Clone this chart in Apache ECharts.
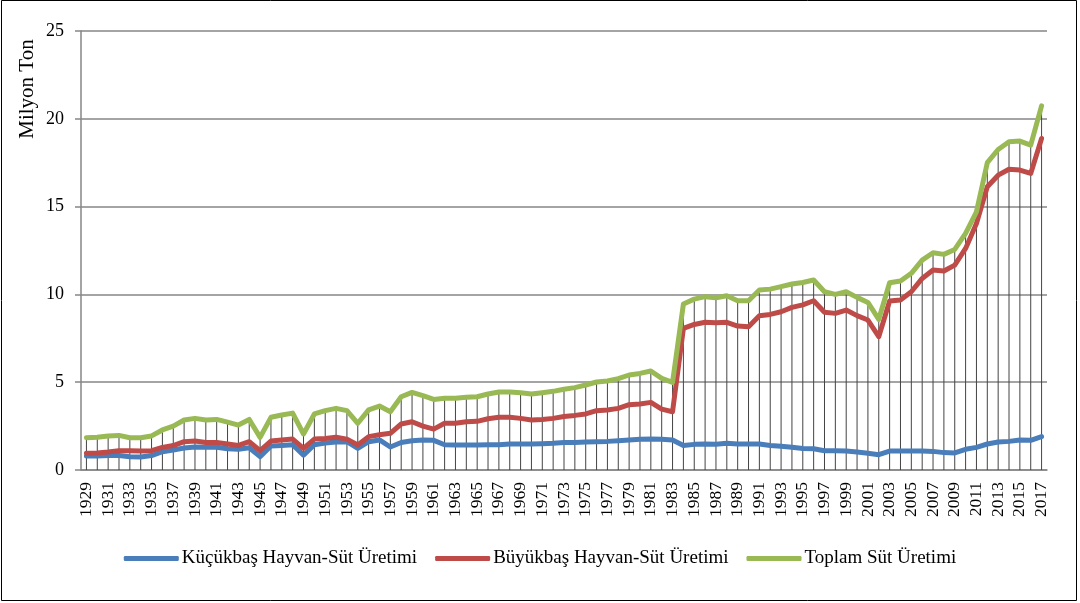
<!DOCTYPE html>
<html>
<head>
<meta charset="utf-8">
<script src="https://cdn.jsdelivr.net/npm/echarts@6/dist/echarts.min.js"></script>
<style>
html,body{margin:0;padding:0;background:#fff;}
#c{width:1080px;height:603px;}
</style>
</head>
<body>
<div id="c"></div>
<script>
const years = [];
for (let y = 1929; y <= 2017; y++) years.push(String(y));

const kucukbas = [0.80,0.80,0.83,0.83,0.76,0.74,0.82,1.04,1.14,1.25,1.31,1.29,1.29,1.21,1.18,1.27,0.76,1.37,1.40,1.44,0.85,1.44,1.54,1.59,1.61,1.23,1.61,1.71,1.31,1.57,1.67,1.71,1.69,1.44,1.42,1.42,1.42,1.44,1.44,1.48,1.48,1.48,1.50,1.52,1.56,1.57,1.59,1.61,1.63,1.67,1.71,1.75,1.76,1.75,1.71,1.39,1.46,1.48,1.46,1.52,1.48,1.48,1.48,1.40,1.35,1.30,1.22,1.21,1.10,1.10,1.08,1.02,0.95,0.87,1.08,1.08,1.08,1.08,1.06,0.99,0.97,1.18,1.29,1.48,1.59,1.63,1.71,1.69,1.90];

const buyukbas = [0.95,0.97,1.02,1.10,1.10,1.08,1.10,1.29,1.39,1.61,1.65,1.57,1.57,1.48,1.40,1.61,1.10,1.65,1.71,1.76,1.23,1.76,1.80,1.86,1.76,1.42,1.90,2.01,2.09,2.62,2.75,2.50,2.33,2.66,2.66,2.75,2.77,2.92,3.00,3.00,2.94,2.85,2.88,2.94,3.05,3.11,3.19,3.38,3.42,3.51,3.72,3.76,3.85,3.47,3.32,8.06,8.29,8.41,8.39,8.41,8.20,8.16,8.79,8.86,9.01,9.26,9.40,9.64,8.98,8.92,9.11,8.79,8.54,7.59,9.62,9.68,10.15,10.91,11.39,11.33,11.67,12.62,14.04,16.13,16.79,17.13,17.08,16.89,18.88];

const toplam = [1.84,1.86,1.94,1.97,1.84,1.84,1.94,2.28,2.50,2.85,2.94,2.85,2.88,2.73,2.56,2.88,1.86,3.00,3.13,3.24,2.05,3.19,3.38,3.51,3.38,2.66,3.42,3.64,3.32,4.17,4.42,4.23,4.02,4.08,4.08,4.14,4.17,4.33,4.44,4.44,4.40,4.33,4.40,4.48,4.60,4.69,4.84,5.01,5.07,5.20,5.41,5.50,5.64,5.22,4.99,9.45,9.73,9.87,9.81,9.92,9.64,9.64,10.25,10.30,10.44,10.59,10.68,10.82,10.15,10.00,10.15,9.83,9.54,8.58,10.66,10.76,11.20,11.95,12.37,12.28,12.56,13.47,14.70,17.50,18.25,18.69,18.73,18.50,20.74];

const seriesNames = ['Küçükbaş Hayvan-Süt Üretimi','Büyükbaş Hayvan-Süt Üretimi','Toplam Süt Üretimi'];
const yAxisTitle = 'Milyon Ton';

const FONT = '"Liberation Serif", "DejaVu Serif", serif';
const chart = echarts.init(document.getElementById('c'), null, {renderer:'canvas'});

function lineSeries(name, data, color){
  return {
    name, type:'line', data, symbol:'none', z:5,
    lineStyle:{color, width:5, join:'round', cap:'round'},
    itemStyle:{color}
  };
}

chart.setOption({
  animation:false,
  backgroundColor:'#fff',
  graphic:[
    {type:'rect', shape:{x:1.5, y:0.5, width:1075, height:600}, style:{fill:'none', stroke:'#000', lineWidth:1}, z:100},
    {type:'text', x:27, y:89, rotation:Math.PI/2,
     style:{text:yAxisTitle, fontFamily:FONT, fontSize:21, fill:'#000', align:'center', verticalAlign:'middle'}}
  ],
  grid:{left:81, right:33, top:31, bottom:133},
  legend:{
    data:seriesNames,
    top:544, left:'center',
    icon:'roundRect', itemWidth:55, itemHeight:5, itemGap:18,
    textStyle:{fontFamily:FONT, fontSize:19, color:'#000', padding:[0,0,0,-2]}
  },
  xAxis:{
    type:'category', data:years, boundaryGap:true,
    axisLine:{lineStyle:{color:'#868686', width:1.5}},
    axisTick:{show:false},
    axisLabel:{interval:1, rotate:90, margin:12, fontFamily:FONT, fontSize:17.5, color:'#000'},
    splitLine:{show:false}
  },
  yAxis:{
    type:'value', min:0, max:25, interval:5,
    axisLine:{show:true, lineStyle:{color:'#868686', width:1.5}},
    axisTick:{show:true, length:6, lineStyle:{color:'#868686', width:1.5}},
    axisLabel:{margin:17, fontFamily:FONT, fontSize:18, color:'#000'},
    splitLine:{lineStyle:{color:'#868686', width:1.5}}
  },
  series:[
    {name:'drop', type:'bar', data:toplam, barWidth:1, silent:true, z:1,
     itemStyle:{color:'#444'}},
    lineSeries(seriesNames[0], kucukbas, '#4a7ebb'),
    lineSeries(seriesNames[1], buyukbas, '#be4b48'),
    lineSeries(seriesNames[2], toplam, '#98b954')
  ]
});
</script>
</body>
</html>
